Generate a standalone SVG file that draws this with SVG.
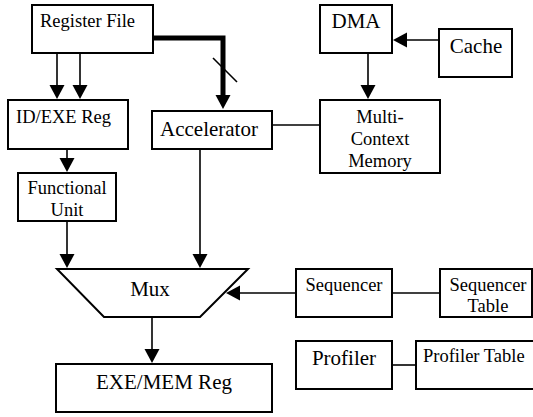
<svg xmlns="http://www.w3.org/2000/svg" width="533" height="417" viewBox="0 0 533 417">
<defs>
<marker id="ah" markerUnits="userSpaceOnUse" markerWidth="16" markerHeight="16" refX="1" refY="7.5" orient="auto">
<path d="M0,0 L14,7.5 L0,15 z" fill="#000"/>
</marker>
</defs>
<rect width="533" height="417" fill="#fff"/>
<g id="connectors" fill="none" stroke="#000" stroke-width="1.6">
<path d="M57,53 V86" marker-end="url(#ah)"/>
<path d="M80,53 V86" marker-end="url(#ah)"/>
<path d="M153,38 H223 V96" stroke-width="5" marker-end="url(#ah)"/>
<path d="M213,58 L237,82"/>
<path d="M67,149 V159" marker-end="url(#ah)"/>
<path d="M67,221 V255" marker-end="url(#ah)"/>
<path d="M200,149 V255" marker-end="url(#ah)"/>
<path d="M152,317 V350" marker-end="url(#ah)"/>
<path d="M439,40 H406" marker-end="url(#ah)"/>
<path d="M368,53 V86" marker-end="url(#ah)"/>
<path d="M296,293 H239" marker-end="url(#ah)"/>
<path d="M272,125 H320"/>
<path d="M392,293 H440"/>
<path d="M392,365 H416"/>
</g>
<g id="register-file">
<rect x="32" y="5" width="121" height="48" fill="#fff" stroke="#000" stroke-width="2"/>
<text x="40" y="27" font-family="Liberation Serif" font-size="18.5">Register File</text>
</g>
<g id="id-exe-reg">
<rect x="8" y="100" width="120" height="49" fill="#fff" stroke="#000" stroke-width="2"/>
<text x="16" y="123" font-family="Liberation Serif" font-size="18.5">ID/EXE Reg</text>
</g>
<g id="accelerator">
<rect x="152" y="111" width="120" height="38" fill="#fff" stroke="#000" stroke-width="2"/>
<text x="160" y="136" font-family="Liberation Serif" font-size="21">Accelerator</text>
</g>
<g id="functional-unit">
<rect x="18" y="173" width="98" height="48" fill="#fff" stroke="#000" stroke-width="2"/>
<text x="67" y="194" font-family="Liberation Serif" font-size="18.5" text-anchor="middle">Functional</text>
<text x="67" y="216" font-family="Liberation Serif" font-size="18.5" text-anchor="middle">Unit</text>
</g>
<g id="mux">
<polygon points="57,269 248,269 200,317 104,317" fill="#fff" stroke="#000" stroke-width="2"/>
<text x="150" y="296" font-family="Liberation Serif" font-size="21" text-anchor="middle">Mux</text>
</g>
<g id="exe-mem-reg">
<rect x="56" y="364" width="216" height="48" fill="#fff" stroke="#000" stroke-width="2"/>
<text x="164" y="389" font-family="Liberation Serif" font-size="21" text-anchor="middle">EXE/MEM Reg</text>
</g>
<g id="dma">
<rect x="320" y="5" width="72" height="48" fill="#fff" stroke="#000" stroke-width="2"/>
<text x="356" y="28" font-family="Liberation Serif" font-size="21" text-anchor="middle">DMA</text>
</g>
<g id="cache">
<rect x="439" y="29" width="73" height="48" fill="#fff" stroke="#000" stroke-width="2"/>
<text x="476" y="53" font-family="Liberation Serif" font-size="21" text-anchor="middle">Cache</text>
</g>
<g id="multi-context-memory">
<rect x="320" y="100" width="120" height="73" fill="#fff" stroke="#000" stroke-width="2"/>
<text x="380" y="123" font-family="Liberation Serif" font-size="18.5" text-anchor="middle">Multi-</text>
<text x="380" y="145" font-family="Liberation Serif" font-size="18.5" text-anchor="middle">Context</text>
<text x="380" y="167" font-family="Liberation Serif" font-size="18.5" text-anchor="middle">Memory</text>
</g>
<g id="sequencer">
<rect x="296" y="269" width="96" height="48" fill="#fff" stroke="#000" stroke-width="2"/>
<text x="344" y="291" font-family="Liberation Serif" font-size="18.5" text-anchor="middle">Sequencer</text>
</g>
<g id="sequencer-table">
<rect x="440" y="269" width="92" height="48" fill="#fff" stroke="#000" stroke-width="2"/>
<text x="488" y="291" font-family="Liberation Serif" font-size="18.5" text-anchor="middle">Sequencer</text>
<text x="488" y="312" font-family="Liberation Serif" font-size="18.5" text-anchor="middle">Table</text>
</g>
<g id="profiler">
<rect x="296" y="341" width="96" height="48" fill="#fff" stroke="#000" stroke-width="2"/>
<text x="344" y="365" font-family="Liberation Serif" font-size="21" text-anchor="middle">Profiler</text>
</g>
<g id="profiler-table">
<rect x="416" y="341" width="124" height="48" fill="#fff" stroke="#000" stroke-width="2"/>
<text x="423" y="362" font-family="Liberation Serif" font-size="18.5">Profiler Table</text>
</g>
</svg>
